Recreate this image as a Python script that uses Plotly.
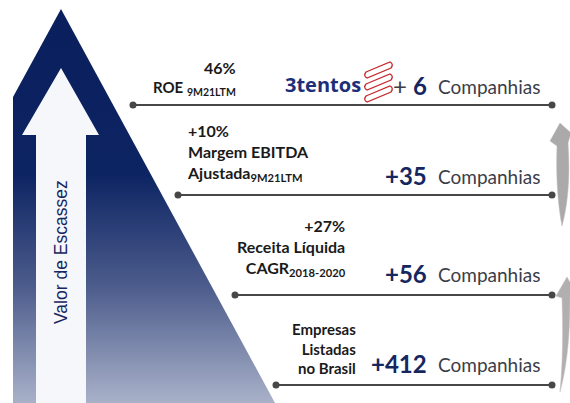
import plotly.graph_objects as go

# ---------------- data ----------------
criteria_pct = ["46%", "+10%", "+27%", ""]
criteria_label = [
    "ROE <sub>9M21LTM</sub>",
    "Margem EBITDA<br>Ajustada<sub>9M21LTM</sub>",
    "Receita Líquida<br>CAGR<sub>2018-2020</sub>",
    "Empresas<br>Listadas<br>no Brasil",
]
company_counts = [6, 35, 56, 412]
count_unit = "Companhias"
side_title = "Valor de Escassez"
logo_text = "3tentos"

# ---------------- layout constants (pixel space of the page) ----------------
W, H = 570, 403
NAVY = "#16275f"
GRAY_TXT = "#3b3d48"
LINE_GRAY = "#474747"
RED = "#c62a30"
row_y = [105, 195, 295, 385]
row_x0 = [133, 178, 235, 276]
row_x1 = 552
count_y = [85, 175, 273, 363]

fig = go.Figure()

# big triangle with vertical gradient
fig.add_trace(go.Scatter(
    x=[61, 275, 13, 13, 61], y=[9, 403, 403, 97, 9],
    mode="lines", line=dict(width=0), fill="toself",
    fillgradient=dict(type="vertical",
                      colorscale=[[0, "#a9b1c9"], [0.3, "#4b5b8b"],
                                  [0.58, "#0d2463"], [1, "#0a1f5c"]]),
    hoverinfo="skip", showlegend=False))

# white arrow inside
fig.add_trace(go.Scatter(
    x=[61, 99, 86, 86, 36, 36, 22, 61],
    y=[68, 135, 135, 403, 403, 135, 135, 68],
    mode="lines", line=dict(width=0), fill="toself",
    fillcolor="#f6f7fb", hoverinfo="skip", showlegend=False))

# horizontal row lines with end dots
for i in range(len(company_counts)):
    fig.add_trace(go.Scatter(
        x=[row_x0[i], row_x1], y=[row_y[i], row_y[i]],
        mode="lines+markers",
        line=dict(color=LINE_GRAY, width=2),
        marker=dict(color=LINE_GRAY, size=7),
        hoverinfo="skip", showlegend=False))

# gray curved arrows on the right
shapes = [
    dict(type="path",
         path="M 562 226 C 557 200 556 170 557 146 L 550 141 L 560 123 L 571 133 L 568 143 C 570 170 569 200 562 226 Z",
         fillcolor="#aaaaaa", line=dict(color="#bdbdbd", width=0.5)),
    dict(type="path",
         path="M 560 392 C 563 360 563 330 562 298 L 556 296 L 567 277 L 571 284 L 570 300 C 570 340 566 370 560 392 Z",
         fillcolor="#b0b0b0", line=dict(color="#c0c0c0", width=0.5)),
]

# red logo mark (three outlined slanted bands)
for k in range(3):
    y0 = 62 + 12 * k
    shapes.append(dict(
        type="path",
        path=(f"M 366 {y0+10} L 390 {y0} Q 394 {y0+2} 391 {y0+6} "
              f"L 367 {y0+16} Q 363 {y0+14} 366 {y0+10} Z"),
        fillcolor="white", line=dict(color=RED, width=1.3)))

ann = []
FAM = "Lato, 'Open Sans', sans-serif"
LBL = dict(family=FAM, size=16, color="#1a1a1a")

# side title
ann.append(dict(x=61, y=252, text=side_title, textangle=-90, showarrow=False,
                font=dict(family="Liberation Sans, Arial, sans-serif", size=17.5, color=NAVY),
                xanchor="center", yanchor="middle"))

# row 1
ann.append(dict(x=220, y=67, text=f"<b>{criteria_pct[0]}</b>", showarrow=False,
                font=LBL, xanchor="center", yanchor="middle"))
ann.append(dict(x=238, y=88, text=f"<b>{criteria_label[0]}</b>", showarrow=False,
                font=dict(family=FAM, size=15, color="#1a1a1a"),
                xanchor="right", yanchor="middle"))
ann.append(dict(x=283, y=84, text=f"<b>{logo_text}</b>", showarrow=False,
                font=dict(family="'Open Sans', sans-serif", size=20, color="#1d2f78"),
                xanchor="left", yanchor="middle"))

# row 2
ann.append(dict(x=185, y=152,
                text=f"<b>{criteria_pct[1]}<br>{criteria_label[1]}</b>",
                showarrow=False, font=LBL, align="left",
                xanchor="left", yanchor="middle"))
# row 3
ann.append(dict(x=348, y=247,
                text=f"<b>{criteria_pct[2]}<br>{criteria_label[2]}</b>",
                showarrow=False, font=LBL, align="right",
                xanchor="right", yanchor="middle"))
# row 4
ann.append(dict(x=358, y=348, text=f"<b>{criteria_label[3]}</b>",
                showarrow=False, font=dict(family=FAM, size=15, color="#1a1a1a"),
                align="right", xanchor="right", yanchor="middle"))

# counts
for i, n in enumerate(company_counts):
    if i == 0:
        txt = f"<span style='color:{GRAY_TXT}'>+ </span><b>{n}</b>"
    else:
        txt = f"<b>+{n}</b>"
    ann.append(dict(x=429, y=count_y[i], text=txt, showarrow=False,
                    font=dict(family=FAM, size=24, color=NAVY),
                    xanchor="right", yanchor="middle"))
    ann.append(dict(x=436, y=count_y[i] + 1, text=count_unit, showarrow=False,
                    font=dict(family=FAM, size=19, color=GRAY_TXT),
                    xanchor="left", yanchor="middle"))

fig.update_layout(
    width=W, height=H, margin=dict(l=0, r=0, t=0, b=0),
    paper_bgcolor="white", plot_bgcolor="white",
    xaxis=dict(range=[0, W], visible=False, fixedrange=True),
    yaxis=dict(range=[H, 0], visible=False, fixedrange=True),
    shapes=shapes, annotations=ann, showlegend=False,
)
fig.write_html("out.html",
               config={"displayModeBar": False, "staticPlot": True},
               post_script="document.body.style.margin='0';document.body.style.overflow='hidden';")
